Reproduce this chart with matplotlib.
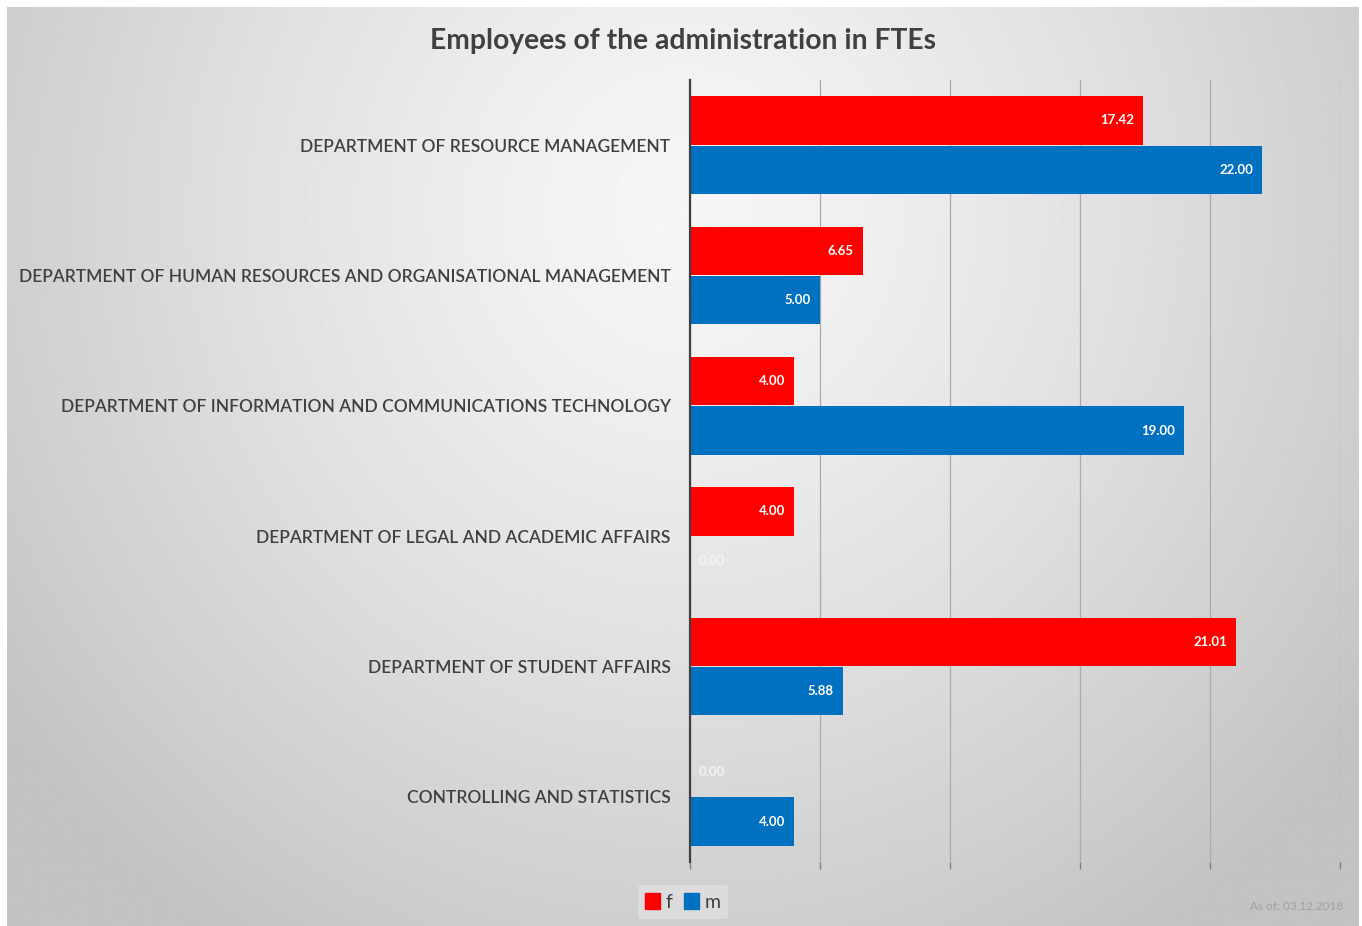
import numpy as np
import matplotlib
matplotlib.use("Agg")
import matplotlib.pyplot as plt
from matplotlib.patches import Patch

categories = [
    "DEPARTMENT OF RESOURCE MANAGEMENT",
    "DEPARTMENT OF HUMAN RESOURCES AND ORGANISATIONAL MANAGEMENT",
    "DEPARTMENT OF INFORMATION AND COMMUNICATIONS TECHNOLOGY",
    "DEPARTMENT OF LEGAL AND ACADEMIC AFFAIRS",
    "DEPARTMENT OF STUDENT AFFAIRS",
    "CONTROLLING AND STATISTICS",
]
female = [17.42, 6.65, 4.00, 4.00, 21.01, 0.00]
male = [22.00, 5.00, 19.00, 0.00, 5.88, 4.00]
series_names = ["f", "m"]
title = "Employees of the administration in FTEs"
note = "As of: 03.12.2018"

plt.rcParams['font.family'] = ['Lato', 'DejaVu Sans']

W, H = 1362, 926
fig = plt.figure(figsize=(W / 100, H / 100), dpi=100)
fig.patch.set_facecolor("white")

# background gradient
bg = fig.add_axes([7 / W, 0, (1358 - 7) / W, (926 - 7) / H], zorder=-5)
ny, nx = 600, 880
yy, xx = np.mgrid[0:ny, 0:nx]
cx, cy = nx * 0.5, ny * 0.22
d = np.sqrt(((xx - cx) / (nx * 0.62)) ** 2 + ((yy - cy) / (ny * 0.95)) ** 2)
d = np.clip(d, 0, 1)
light, dark = 0.965, 0.765
val = light - (light - dark) * d ** 1.3
bg.imshow(val, cmap="gray", vmin=0, vmax=1, aspect="auto", extent=[0, 1, 1, 0], interpolation="bilinear")
bg.set_axis_off()

ax = fig.add_axes([690 / W, 1 - 862 / H, (1340 - 690) / W, (862 - 80) / H])
ax.set_facecolor("none")

y = np.arange(len(categories))
h = 0.37
off = 0.19
red = "#FF0000"
blue = "#0070C0"
ax.barh(y - off, female, height=h, color=red, zorder=3)
ax.barh(y + off, male, height=h, color=blue, zorder=3)

ax.set_xlim(0, 25)
ax.set_ylim(len(categories) - 0.5, -0.5)
ax.set_xticks([0, 5, 10, 15, 20, 25])
ax.set_xticklabels([])
ax.tick_params(axis='x', length=5, color="#808080", width=1)
ax.grid(axis='x', color="#ABABAB", linewidth=0.9, zorder=0)
ax.set_yticks(y)
ax.set_yticklabels(categories, fontsize=12.5, color="#404040", fontweight="semibold")
ax.tick_params(axis='y', length=0, pad=14)
for s in ["top", "right", "bottom"]:
    ax.spines[s].set_visible(False)
ax.spines["left"].set_color("#404040")
ax.spines["left"].set_linewidth(1.6)
ax.spines["left"].set_zorder(4)

for vals, offs in ((female, -off), (male, off)):
    for i, v in enumerate(vals):
        if v > 0:
            ax.text(v - 0.35, i + offs, f"{v:.2f}", ha="right", va="center",
                    color="white", fontsize=9.5, fontweight="bold", zorder=5)
        else:
            ax.text(0.35, i + offs, f"{v:.2f}", ha="left", va="center",
                    color="#F4F4F4", fontsize=9.5, fontweight="bold", zorder=5)

fig.text(683 / W, 1 - 41 / H, title, ha="center", va="center", fontsize=20.3,
         fontweight="bold", color="#404040")
fig.text(1343 / W, 1 - 907 / H, note, ha="right", va="center", fontsize=8.5,
         color="#A0A0A0")

handles = [Patch(color=red), Patch(color=blue)]
leg = fig.legend(handles, series_names, loc="center", bbox_to_anchor=(683 / W, 1 - 902 / H),
                 ncol=2, frameon=True, fontsize=14, handlelength=0.75, handleheight=0.9,
                 handletextpad=0.3, columnspacing=0.6, borderpad=0.4)
leg.get_frame().set_facecolor("#E2E2E2")
leg.get_frame().set_edgecolor("none")
leg.get_frame().set_alpha(0.7)
for t in leg.get_texts():
    t.set_color("#404040")

fig.savefig("out.png", dpi=100)
